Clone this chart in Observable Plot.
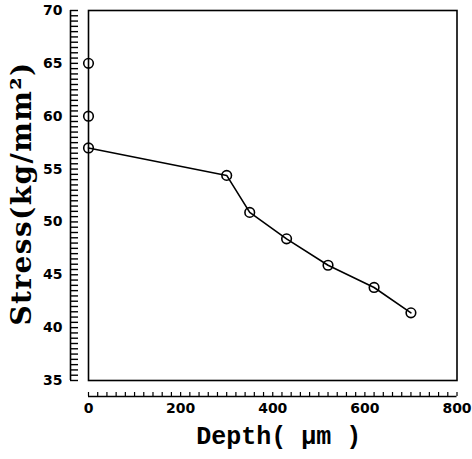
<!DOCTYPE html>
<html>
<head>
<meta charset="utf-8">
<script src="https://cdn.jsdelivr.net/npm/d3@7"></script>
<script src="https://cdn.jsdelivr.net/npm/@observablehq/plot@0.6"></script>
<style>
  html, body { margin: 0; padding: 0; background: #fff; }
  #chart svg { display: block; }
  .stress-title text { letter-spacing: 1.4px; }
</style>
</head>
<body>
<div id="chart"></div>
<script>
// Residual stress measured against depth below the surface
const depth  = [0, 0, 0, 300, 350, 430, 520, 620, 700];      // µm
const stress = [65, 60, 57, 54.4, 50.9, 48.4, 45.9, 43.8, 41.4]; // kg/mm²

// the connected profile starts at the third surface reading
const profileStart = 2;

const xLabels = [0, 200, 400, 600, 800];
const yLabels = [35, 40, 45, 50, 55, 60, 65, 70];
const xMinor = d3.range(0, 801, 20);
const yMinor = d3.range(0, 71).map(i => 35 + i * 0.5);

const points = depth.map((d, i) => ({depth: d, stress: stress[i]}));
const profile = points.slice(profileStart);

const tickFont = {fontFamily: "DejaVu Sans", fontWeight: "bold", fontSize: 14};

const chart = Plot.plot({
  width: 472,
  height: 459,
  marginLeft: 88,
  marginRight: 15.5,
  marginTop: 10,
  marginBottom: 79,
  style: {background: "#fff", color: "#000"},
  x: {domain: [0, 800]},
  y: {domain: [35, 70]},
  marks: [
    Plot.frame({stroke: "#000", strokeWidth: 1.6}),
    // detached ruler below the panel
    Plot.ruleY([35], {x1: 0, x2: 800, dy: 16, stroke: "#000", strokeWidth: 1.4}),
    Plot.axisX(xMinor, {anchor: "bottom", tickSize: -4, dy: 16, tickFormat: () => "", label: null, stroke: "#000", strokeWidth: 1.2}),
    Plot.axisX(xLabels, {anchor: "bottom", tickSize: 0, tickPadding: 23, label: null, ...tickFont}),
    // detached ruler left of the panel
    Plot.ruleX([0], {y1: 35, y2: 70, dx: -18, stroke: "#000", strokeWidth: 1.6}),
    Plot.axisY(yMinor, {anchor: "left", tickSize: -8, dx: -18, tickFormat: () => "", label: null, stroke: "#000", strokeWidth: 1.4}),
    Plot.axisY(yLabels, {anchor: "left", tickSize: 0, tickPadding: 26, label: null, ...tickFont}),
    Plot.line(profile, {x: "depth", y: "stress", stroke: "#000", strokeWidth: 1.6}),
    Plot.dot(points, {x: "depth", y: "stress", r: 4.8, stroke: "#000", strokeWidth: 1.6, fill: "none"}),
    Plot.text(["Depth( μm )"], {frameAnchor: "bottom", dy: 63, dx: 6, lineAnchor: "bottom", textAnchor: "middle",
      fontFamily: "Liberation Mono", fontWeight: "bold", fontSize: 25, fill: "#000"}),
    Plot.text(["Stress(kg/mm²)"], {frameAnchor: "left", dx: -66, dy: -2, rotate: -90, lineAnchor: "middle", textAnchor: "middle",
      fontFamily: "DejaVu Serif", fontWeight: "bold", fontSize: 28, fill: "#000", className: "stress-title"})
  ]
});

document.getElementById("chart").appendChild(chart);
</script>
</body>
</html>
